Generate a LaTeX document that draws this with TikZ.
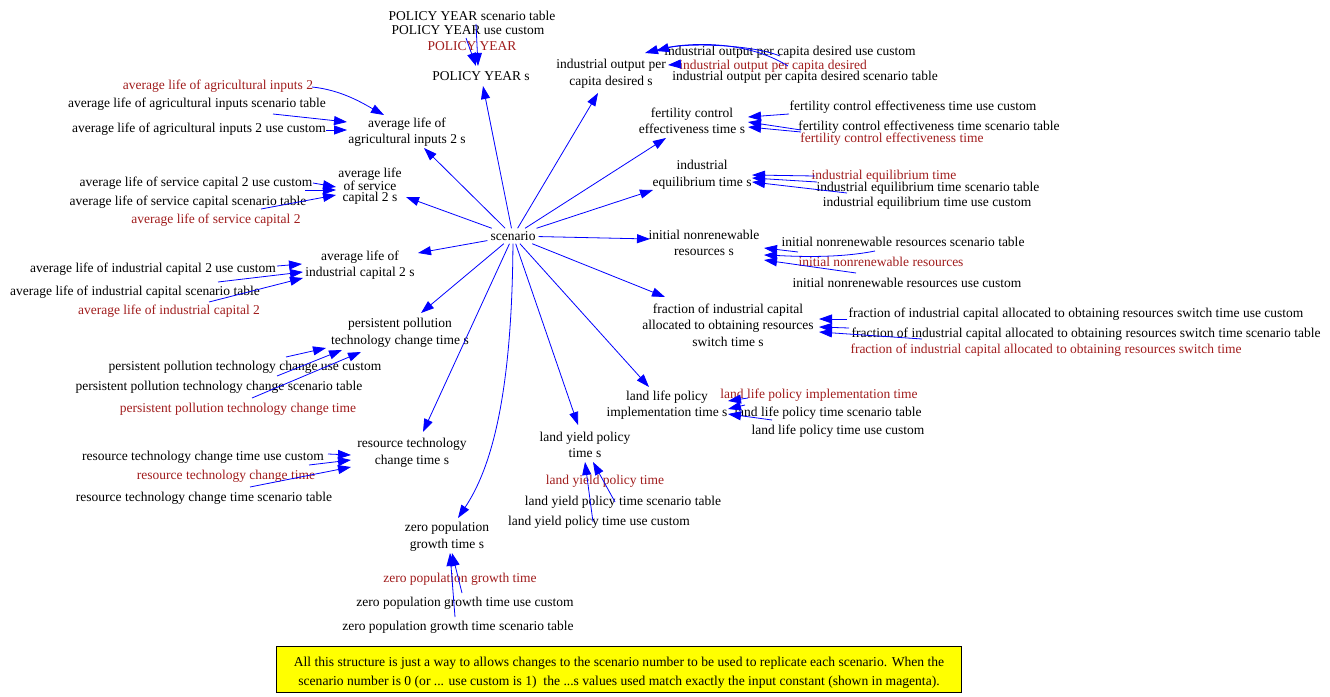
\documentclass[tikz,border=0pt]{standalone}
\usepackage{fontspec}
\setmainfont{Liberation Serif}
\usetikzlibrary{arrows.meta}
\definecolor{vred}{RGB}{160,28,28}
\definecolor{vblue}{RGB}{0,0,255}
\definecolor{noteyellow}{RGB}{255,255,0}
\newcommand\mylink[4]{\draw[arr] ([shift={(#2)}]#1.center) -- ([shift={(#4)}]#3.center);}
\begin{document}
\begin{tikzpicture}[x=1pt,y=-1pt,
  v/.style={font=\fontsize{13.5}{16.5}\selectfont, inner sep=1pt, align=center, text=black},
  rv/.style={v, text=vred},
  arr/.style={draw=vblue, line width=0.8pt, -{Triangle[length=13pt,width=9pt]}},
  notebox/.style={draw=black, fill=noteyellow, line width=0.8pt, minimum width=685pt, minimum height=46pt, align=center, font=\fontsize{13.6}{19}\selectfont, inner sep=0pt}]
\useasboundingbox (0,0) rectangle (1330,696);

\node[v, inner sep=3pt] (sc) at (513,236) {scenario};

\node[v] (pys) at (481,76) {POLICY YEAR s};
\node[v] (pyt) at (472,16) {POLICY YEAR scenario table};
\node[v] (pyu) at (468,30) {POLICY YEAR use custom};
\node[rv] (pyr) at (472,46) {POLICY YEAR};

\node[v] (agis) at (407,132) {average life of\\agricultural inputs 2 s};
\node[rv] (agr) at (218,86) {average life of agricultural inputs 2};
\node[v] (agt) at (197,104) {average life of agricultural inputs scenario table};
\node[v] (agu) at (199,129) {average life of agricultural inputs 2 use custom};

\node[v, font=\fontsize{13.5}{9}\selectfont] (svs) at (370,186) {average life\\of service\\capital 2 s};
\node[v] (svu) at (196,183) {average life of service capital 2 use custom};
\node[v] (svt) at (188,202) {average life of service capital scenario table};
\node[rv] (svr) at (216,220) {average life of service capital 2};

\node[v] (alics) at (360,265) {average life of\\industrial capital 2 s};
\node[v] (alu) at (153,269) {average life of industrial capital 2 use custom};
\node[v] (alt) at (135,292) {average life of industrial capital scenario table};
\node[rv] (alr) at (169,311) {average life of industrial capital 2};

\node[v] (ppts) at (400,333) {persistent pollution\\technology change time s};
\node[v] (ppu) at (245,367) {persistent pollution technology change use custom};
\node[v] (ppt) at (219,387) {persistent pollution technology change scenario table};
\node[rv] (ppr) at (238,409) {persistent pollution technology change time};

\node[v] (rtcs) at (412,453) {resource technology\\change time s};
\node[v] (rtu) at (203,457) {resource technology change time use custom};
\node[rv] (rtr) at (226,476) {resource technology change time};
\node[v] (rtt) at (204,498) {resource technology change time scenario table};

\node[v] (zpgs) at (447,537) {zero population\\growth time s};
\node[rv] (zpr) at (460,579) {zero population growth time};
\node[v] (zpu) at (465,603) {zero population growth time use custom};
\node[v] (zpt) at (458,627) {zero population growth time scenario table};

\node[v] (lys) at (585,445) {land yield policy\\time s};
\node[rv] (lyr) at (605,481) {land yield policy time};
\node[v] (lyt) at (623,502) {land yield policy time scenario table};
\node[v] (lyu) at (599,522) {land yield policy time use custom};

\node[v] (lls) at (667,405) {land life policy\\implementation time s};
\node[rv] (llr) at (819,395) {land life policy implementation time};
\node[v] (llt) at (828,413) {land life policy time scenario table};
\node[v] (llu) at (838,431) {land life policy time use custom};

\node[v] (frs) at (728,325) {fraction of industrial capital\\allocated to obtaining resources\\switch time s};
\node[v] (fru) at (1076,314) {fraction of industrial capital allocated to obtaining resources switch time use custom};
\node[v] (frt) at (1086,334) {fraction of industrial capital allocated to obtaining resources switch time scenario table};
\node[rv] (frr) at (1046,350) {fraction of industrial capital allocated to obtaining resources switch time};

\node[v] (inrs) at (704,243) {initial nonrenewable\\resources s};
\node[v] (inrt) at (903,242) {initial nonrenewable resources scenario table};
\node[rv] (inrr) at (881,262) {initial nonrenewable resources};
\node[v] (inru) at (907,283) {initial nonrenewable resources use custom};

\node[v] (ies) at (702,175) {industrial\\equilibrium time s};
\node[rv] (ier) at (884,176) {industrial equilibrium time};
\node[v] (iet) at (928,188) {industrial equilibrium time scenario table};
\node[v] (ieu) at (927,203) {industrial equilibrium time use custom};

\node[v] (fces) at (692,121) {fertility control\\effectiveness time s};
\node[v] (fceu) at (913,107) {fertility control effectiveness time use custom};
\node[v] (fcet) at (929,127) {fertility control effectiveness time scenario table};
\node[rv] (fcer) at (892,139) {fertility control effectiveness time};

\node[v] (iops) at (611,74) {industrial output per\\capita desired s};
\node[v] (iopu) at (790,52) {industrial output per capita desired use custom};
\node[rv] (iopr) at (773,66) {industrial output per capita desired};
\node[v] (iopt) at (805,77) {industrial output per capita desired scenario table};

\node[notebox] (note) at (619,669.5) {\rule{0pt}{16pt}All this structure is just a way to allows changes to the scenario number to be used to replicate each scenario. When the\\scenario number is 0 (or ... use custom is 1)~ the ...s values used match exactly the input constant (shown in magenta).};

% scenario links
\draw[arr] (sc) -- ([shift={(2,10)}]pys.center);
\draw[arr] (sc) -- ([shift={(-13,19)}]iops.center);
\draw[arr] (sc) -- ([shift={(17,16)}]agis.center);
\draw[arr] (sc) -- ([shift={(36,11)}]svs.center);
\draw[arr] (sc) -- ([shift={(-26,17)}]fces.center);
\draw[arr] (sc) -- ([shift={(-49,15)}]ies.center);
\draw[arr] (sc) -- ([shift={(-54,-4)}]inrs.center);
\draw[arr] (sc) -- ([shift={(-63,-28)}]frs.center);
\draw[arr] (sc) -- ([shift={(-18,-18)}]lls.center);
\draw[arr] (sc) -- ([shift={(-7,-20)}]lys.center);
\draw[arr] (sc) .. controls +(-1,164) and +(32,-48) .. ([shift={(11,-19)}]zpgs.center);
\draw[arr] (sc) -- ([shift={(11,-21)}]rtcs.center);
\draw[arr] (sc) -- ([shift={(21,-20)}]ppts.center);
\draw[arr] (sc) -- ([shift={(58,-12)}]alics.center);

% policy year
\mylink{pyt}{4,8}{pys}{-3,-10}
\mylink{pyu}{-2,8}{pys}{-5,-10}

% agricultural inputs
\draw[arr] ([shift={(94,1)}]agr.center) .. controls +(30,3) and +(-20,-11) .. ([shift={(-23,-17)}]agis.center);
\mylink{agt}{76,10}{agis}{-60,-10}
\mylink{agu}{127,1}{agis}{-60,-2}

% service capital
\mylink{svu}{117,0}{svs}{-34,1}
\mylink{svt}{117,-12}{svs}{-34,4}
\mylink{svr}{45,-11}{svs}{-34,9}

% industrial capital
\mylink{alu}{124,-3}{alics}{-58,-1}
\mylink{alt}{83,-10}{alics}{-57,7}
\mylink{alr}{40,-9}{alics}{-57,13}

% persistent pollution
\mylink{ppu}{41,-10}{ppts}{-74,15}
\mylink{ppt}{58,-11}{ppts}{-58,17}
\mylink{ppr}{14,-11}{ppts}{-39,19}

% resource technology
\mylink{rtu}{125,-3}{rtcs}{-61,2}
\mylink{rtr}{83,-11}{rtcs}{-61,7}
\mylink{rtt}{46,-11}{rtcs}{-61,14}

% zero population growth
\mylink{zpu}{-3,-10}{zpgs}{5,16}
\mylink{zpt}{-3,-10}{zpgs}{3,16}

% land yield
\mylink{lyu}{-6,0}{lys}{0,17}
\mylink{lyt}{-8,0}{lys}{8,17}

% land life
\mylink{llr}{-71,3}{lls}{61,-4}
\mylink{llt}{-83,-8}{lls}{61,4}
\mylink{llu}{-66,-11}{lls}{61,9}

% fraction
\mylink{fru}{-229,5}{frs}{91,-6}
\mylink{frt}{-237,-6}{frs}{91,2}
\mylink{frr}{-124,-11}{frs}{91,7}

% initial nonrenewable
\mylink{inrt}{-105,10}{inrs}{60,5}
\draw[arr] ([shift={(-6,-11)}]inrr.center) .. controls +(-40,8) and +(25,1) .. ([shift={(60,12)}]inrs.center);
\mylink{inru}{-51,-10}{inrs}{60,17}

% industrial equilibrium
\mylink{ier}{-69,0}{ies}{50,0}
\mylink{iet}{-111,-6}{ies}{50,3}
\mylink{ieu}{-80,-10}{ies}{50,7}

% fertility control
\mylink{fceu}{-124,7}{fces}{56,-4}
\mylink{fcet}{-128,3}{fces}{56,1}
\mylink{fcer}{-91,-7}{fces}{56,6}

% industrial output per capita
\mylink{iopr}{-92,-2}{iops}{57,-9}
\draw[arr] ([shift={(-10,4)}]iopu.center) .. controls +(-30,-12) and +(30,-8) .. ([shift={(45,-23)}]iops.center);
\draw[arr] ([shift={(-17,-11)}]iopt.center) .. controls +(-40,-25) and +(45,-12) .. ([shift={(34,-21)}]iops.center);
\end{tikzpicture}
\end{document}
